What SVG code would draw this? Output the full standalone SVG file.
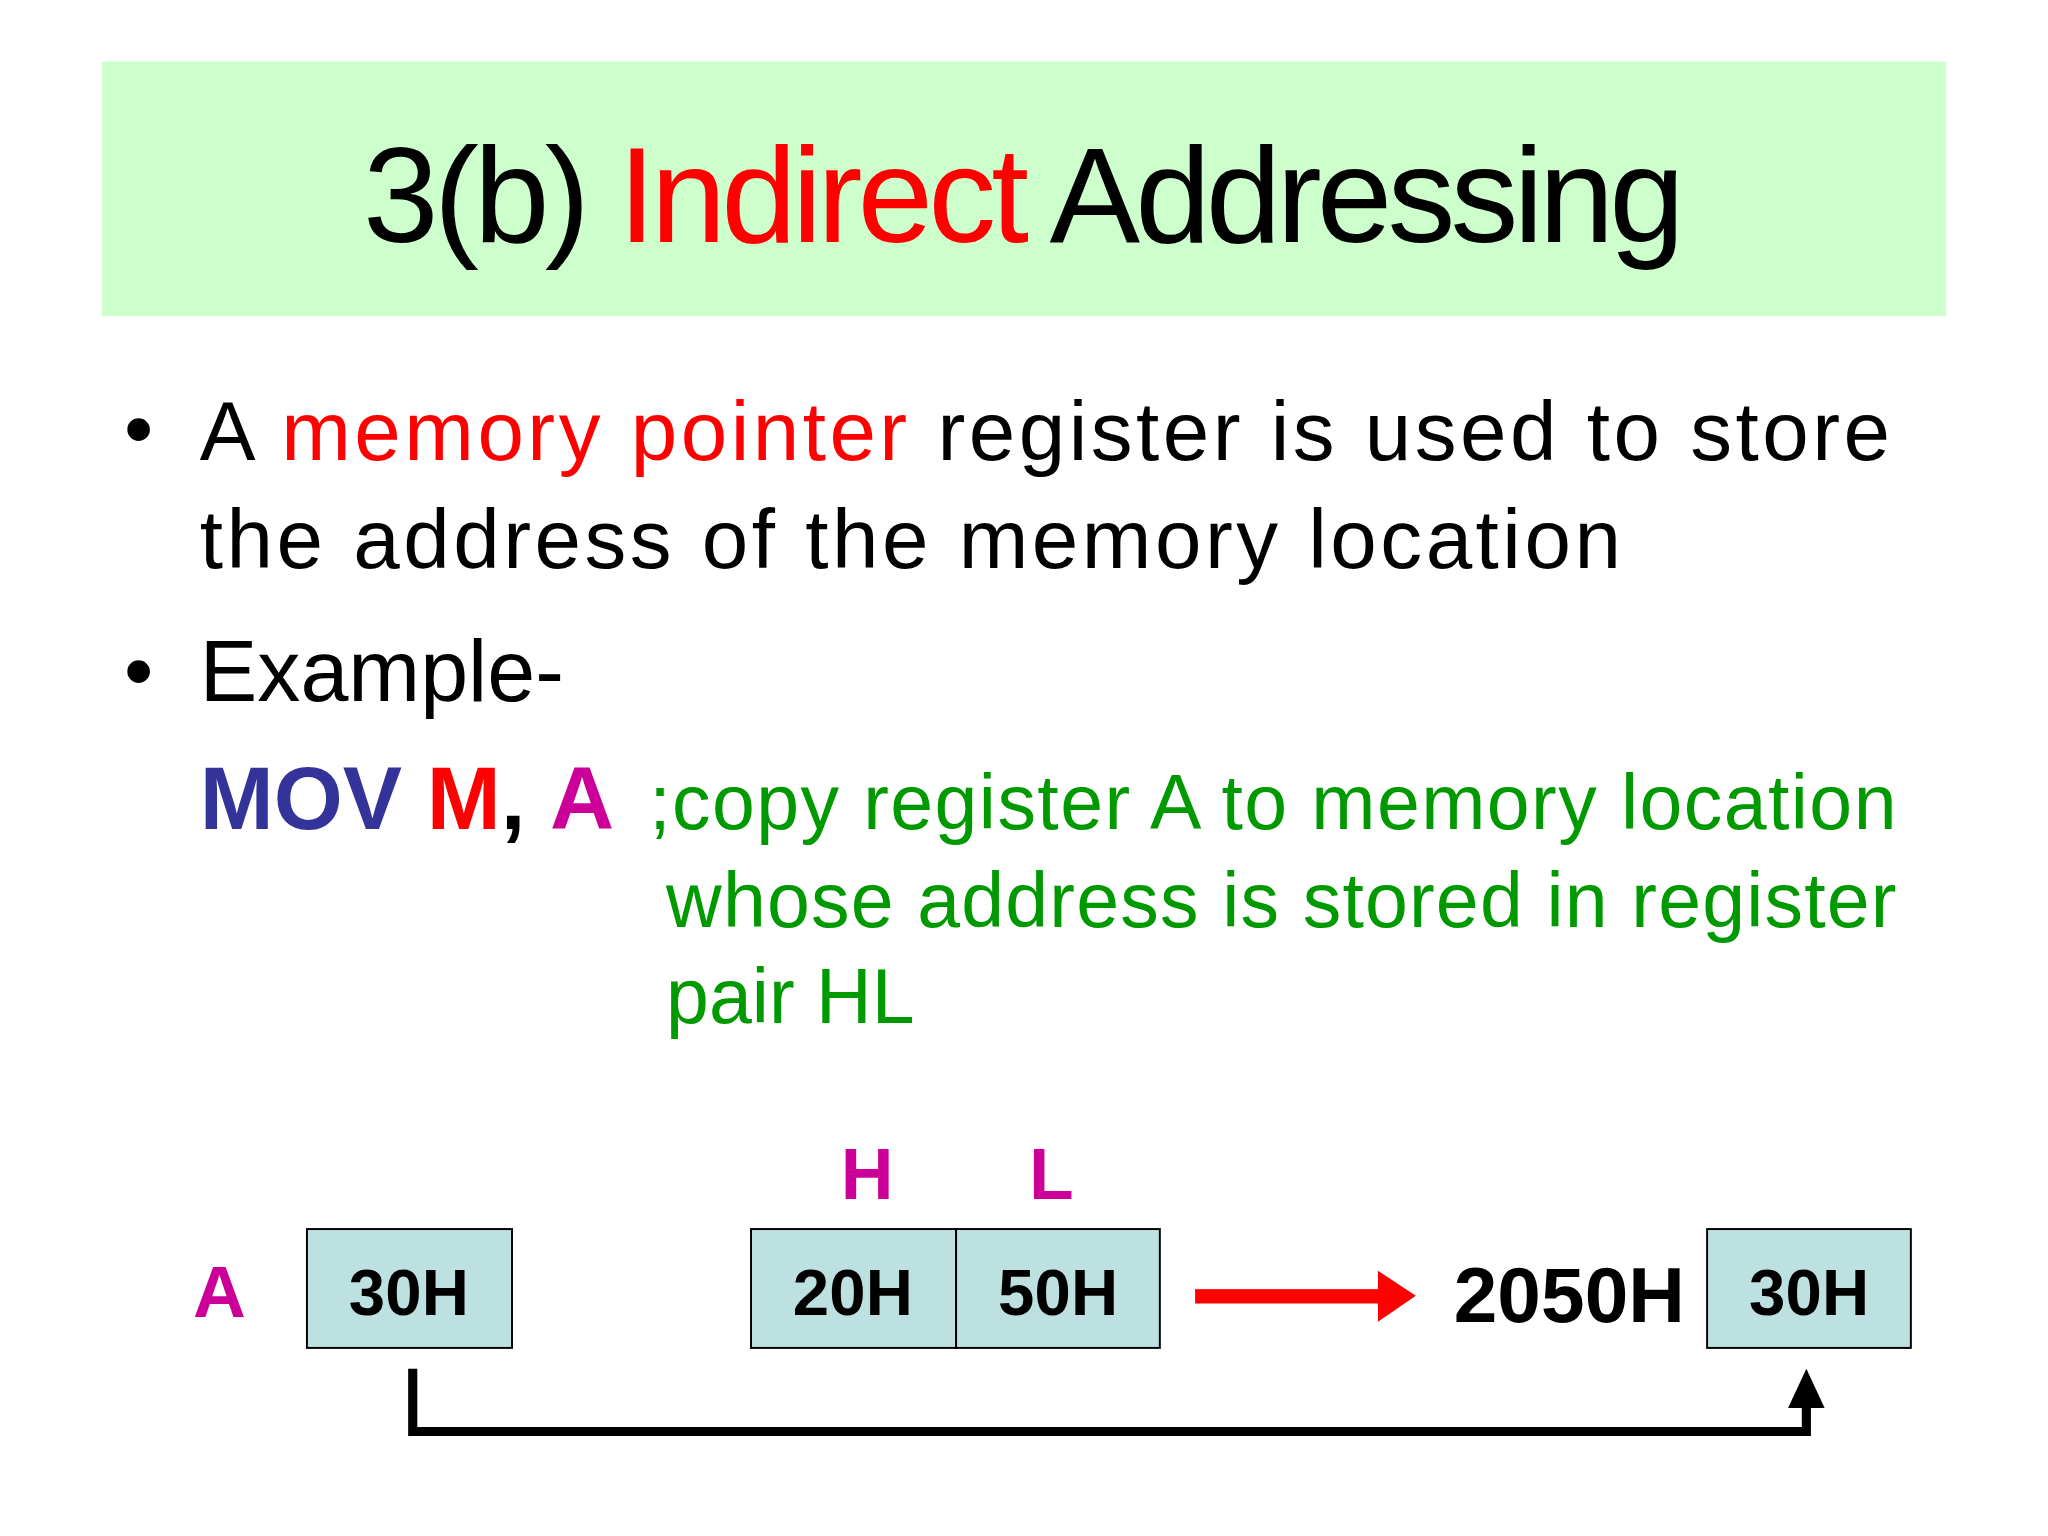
<svg xmlns="http://www.w3.org/2000/svg" width="2048" height="1536" viewBox="0 0 2048 1536">
<style>
.t{font-family:"Liberation Sans",Arial,sans-serif}
.b{font-family:"Liberation Sans",Arial,sans-serif;font-weight:bold}
.box{fill:#bde0e0;stroke:#000;stroke-width:1.5}
.g{fill:#009900}
</style>
<rect width="2048" height="1536" fill="#fff"/>
<g transform="scale(1.30612)">
<g id="title">
<rect x="78" y="47" width="1412" height="195" fill="#ccffcc"/>
<text class="t" x="784" y="185" font-size="104" text-anchor="middle" textLength="1012">3(b) <tspan fill="#ff0000">Indirect</tspan> Addressing</text>
</g>
<g id="bullets" class="t" font-size="64">
<text x="95" y="350">•</text>
<text x="153" y="352" textLength="1294">A <tspan fill="#ff0000">memory pointer</tspan> register is used to store</text>
<text x="153" y="435" textLength="1088">the address of the memory location</text>
<text x="95" y="535">•</text>
<text x="153" y="537" font-size="66">Example-</text>
</g>
<g id="code">
<text class="b" x="153" y="635" font-size="68"><tspan fill="#333399">MOV</tspan> <tspan fill="#ff0000">M</tspan>, <tspan fill="#cc0099">A</tspan></text>
<text class="t g" x="497" y="635" font-size="59" textLength="955">;copy register A to memory location</text>
<text class="t g" x="510" y="710" font-size="59" textLength="942">whose address is stored in register</text>
<text class="t g" x="510" y="783" font-size="59">pair HL</text>
</g>
<g id="regA">
<text class="b" x="168" y="1008" font-size="56" fill="#cc0099" text-anchor="middle">A</text>
<rect class="box" x="235" y="941" width="157" height="91"/>
<text class="b" x="313" y="1007" font-size="50" text-anchor="middle" textLength="92">30H</text>
</g>
<g id="regHL">
<text class="b" x="664" y="918" font-size="56" fill="#cc0099" text-anchor="middle">H</text>
<text class="b" x="805" y="918" font-size="56" fill="#cc0099" text-anchor="middle">L</text>
<rect class="box" x="575" y="941" width="157" height="91"/>
<rect class="box" x="732" y="941" width="156" height="91"/>
<text class="b" x="653" y="1007" font-size="50" text-anchor="middle" textLength="92">20H</text>
<text class="b" x="810" y="1007" font-size="50" text-anchor="middle" textLength="92">50H</text>
</g>
<g id="mem">
<text class="b" x="1113" y="1012" font-size="60" textLength="177">2050H</text>
<rect class="box" x="1307" y="941" width="156" height="91"/>
<text class="b" x="1385" y="1007" font-size="50" text-anchor="middle" textLength="92">30H</text>
</g>
<g id="connectors">
<rect x="915" y="987" width="142" height="11" fill="#ff0000"/>
<polygon points="1055,973 1084,992 1055,1012" fill="#ff0000"/>
<path d="M316,1048 V1096 H1383 V1075" fill="none" stroke="#000" stroke-width="7"/>
<polygon points="1369,1078 1383,1048 1397,1078" fill="#000"/>
</g>
</g>
</svg>
